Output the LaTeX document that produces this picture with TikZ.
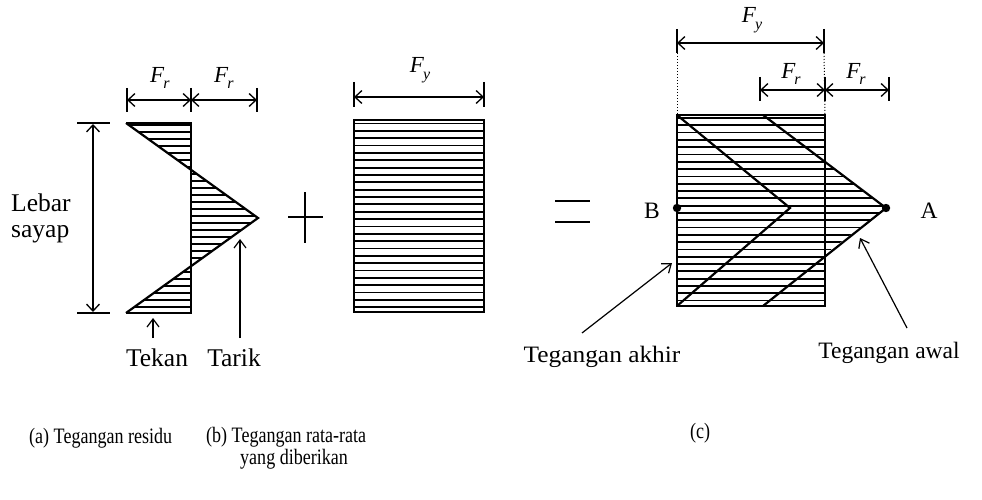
\documentclass[tikz,border=0pt]{standalone}
\usepackage{fontspec}
\setmainfont{Liberation Serif}
\usetikzlibrary{arrows.meta}
\newcommand\FF[1]{\textit{F}\kern-1pt\raisebox{-0.28em}{\fontsize{16}{16}\selectfont\textit{#1}}}
\begin{document}
\begin{tikzpicture}[x=1pt,y=-1pt,
  lbl/.style={font=\fontsize{25.5}{27}\selectfont, inner sep=0pt},
  lblb/.style={font=\fontsize{23.5}{25}\selectfont, inner sep=0pt},
  fl/.style={font=\fontsize{23}{25}\selectfont, inner sep=0pt},
  captext/.style={font=\fontsize{22}{24}\selectfont, inner sep=0pt, anchor=west},
  dim/.style={line width=1.3pt, {Straight Barb[length=7pt,width=13pt]}-{Straight Barb[length=7pt,width=13pt]}},
  tickline/.style={line width=1.6pt},
  outl/.style={line width=2.2pt, line join=miter},
  hatchline/.style={line width=1.8pt},
  ptr/.style={line width=1.2pt, -{Straight Barb[length=8pt,width=12pt]}},
  dotline/.style={line width=1pt, dotted},
]
\useasboundingbox (0,0) rectangle (982,500);

%================ panel (a)
\coordinate (a1) at (126,123);
\coordinate (a2) at (191,123);
\coordinate (a3) at (191,169.8);
\coordinate (tip) at (258,218);
\coordinate (a5) at (191,266.2);
\coordinate (a6) at (126,313);
\coordinate (a7) at (191,313);
\begin{scope}
  \clip (a1)--(a2)--(a3)--cycle (a3)--(tip)--(a5)--cycle (a5)--(a7)--(a6)--cycle;
  \foreach \i in {0,...,27} {\draw[hatchline] (120,{125+7*\i}) -- (265,{125+7*\i});}
\end{scope}
\draw[outl] (a1)--(tip)--(a6);
\draw[outl] (a1)--(a2)--(a7)--(a6);

% top dimensions
\coordinate (ta1) at (127,88); \coordinate (tb1) at (127,112);
\coordinate (ta2) at (191,88); \coordinate (tb2) at (191,112);
\coordinate (ta3) at (257,88); \coordinate (tb3) at (257,112);
\draw[tickline] (ta1)--(tb1) (ta2)--(tb2) (ta3)--(tb3);
\coordinate (da1) at (127,100); \coordinate (da2) at (191,100); \coordinate (da3) at (257,100);
\draw[dim] (da1)--(da2);
\draw[dim] (da2)--(da3);
\node[fl] (fr1) at (160,78) {\FF{r}};
\node[fl] (fr2) at (224,78) {\FF{r}};

% width dimension
\coordinate (wl1) at (77,123); \coordinate (wr1) at (110,123);
\coordinate (wl2) at (77,313); \coordinate (wr2) at (110,313);
\draw[tickline] (wl1)--(wr1) (wl2)--(wr2);
\coordinate (wv1) at (93,124); \coordinate (wv2) at (93,312);
\draw[dim] (wv1)--(wv2);
\node[lbl, anchor=west] (lebar) at (11,203) {Lebar};
\node[lbl, anchor=west] (sayap) at (11,234) {sayap};

% Tekan / Tarik
\node[lbl] (tekan) at (157,358) {Tekan};
\node[lbl] (tarik) at (234,358) {Tarik};
\coordinate (tk1) at (153,338); \coordinate (tk2) at (153,318);
\coordinate (tr1) at (240,338); \coordinate (tr2) at (240,239);
\draw[ptr] (tk1)--(tk2);
\draw[ptr] (tr1)--(tr2);

% plus
\coordinate (p1) at (288,217); \coordinate (p2) at (323,217);
\coordinate (p3) at (305,192); \coordinate (p4) at (305,243);
\draw[line width=2pt] (p1)--(p2) (p3)--(p4);

%================ panel (b)
\coordinate (b1) at (354,120); \coordinate (b2) at (484,312);
\begin{scope}
  \clip (b1) rectangle (b2);
  \foreach \i in {0,...,26} {\draw[hatchline] (350,{123.5+7.35*\i}) -- (490,{123.5+7.35*\i});}
\end{scope}
\draw[outl] (b1) rectangle (b2);
\coordinate (tbb1) at (354,82); \coordinate (tbb2) at (354,107);
\coordinate (tbb3) at (484,82); \coordinate (tbb4) at (484,107);
\draw[tickline] (tbb1)--(tbb2) (tbb3)--(tbb4);
\coordinate (db1) at (354,97); \coordinate (db2) at (484,97);
\draw[dim] (db1)--(db2);
\node[fl] (fy1) at (420,70) {\FF{y}};

% equals
\coordinate (e1) at (555,201); \coordinate (e2) at (590,201);
\coordinate (e3) at (555,222); \coordinate (e4) at (590,222);
\draw[line width=2pt] (e1)--(e2) (e3)--(e4);

%================ panel (c)
\coordinate (c1) at (677,115); \coordinate (c2) at (825,306);
\coordinate (cB) at (677,208);
\coordinate (cm) at (790,208);
\coordinate (cbl) at (677,306);
\coordinate (ct2) at (763,115);
\coordinate (cA) at (886,208);
\coordinate (cb2) at (763,306);
\coordinate (cx1) at (825,161.9);
\coordinate (cx2) at (825,254.1);
\begin{scope}
  \clip (c1) rectangle (c2) (cx1)--(cA)--(cx2)--cycle;
  \foreach \i in {0,...,26} {\draw[hatchline] (670,{118+7.3*\i}) -- (895,{118+7.3*\i});}
\end{scope}
\draw[outl] (c1) rectangle (c2);
\draw[outl] (c1)--(cm)--(cbl);
\draw[outl] (ct2)--(cA)--(cb2);
\fill (cB) circle (4.2);
\fill (cA) circle (4.2);
\node[lblb] (lB) at (652,211) {B};
\node[lblb] (lA) at (929,211) {A};

% dimensions of (c)
\coordinate (fy1a) at (677,29); \coordinate (fy1b) at (677,53);
\coordinate (fy2a) at (824,29); \coordinate (fy2b) at (824,53);
\draw[tickline] (fy1a)--(fy1b) (fy2a)--(fy2b);
\coordinate (dfy1) at (677,43); \coordinate (dfy2) at (824,43);
\draw[dim] (dfy1)--(dfy2);
\node[fl] (fyc) at (752,20) {\FF{y}};
\coordinate (dt1) at (677,115); \coordinate (dt2) at (825,115);
\draw[dotline] (fy1b)--(dt1);
\draw[dotline] (fy2b)--(dt2);

\coordinate (fr1a) at (760,77); \coordinate (fr1b) at (760,101);
\coordinate (fr2a) at (825,77); \coordinate (fr2b) at (825,101);
\coordinate (fr3a) at (889,77); \coordinate (fr3b) at (889,101);
\draw[tickline] (fr1a)--(fr1b) (fr2a)--(fr2b) (fr3a)--(fr3b);
\coordinate (dr1) at (760,90); \coordinate (dr2) at (825,90); \coordinate (dr3) at (889,90);
\draw[dim] (dr1)--(dr2);
\draw[dim] (dr2)--(dr3);
\node[fl] (frc1) at (791,74) {\FF{r}};
\node[fl] (frc2) at (856,74) {\FF{r}};

% pointers
\node[lblb] (akhir) at (602,357) {\scalebox{1.08}[1]{Tegangan akhir}};
\node[lblb] (awal) at (889,353) {Tegangan awal};
\coordinate (pa1) at (582,333); \coordinate (pa2) at (672,263);
\coordinate (pw1) at (907,328); \coordinate (pw2) at (860,238);
\draw[ptr] (pa1)--(pa2);
\draw[ptr] (pw1)--(pw2);

%================ captions
\node[captext] (capa) at (29,438) {\scalebox{0.82}[1]{(a) Tegangan residu}};
\node[captext] (capb) at (206,437) {\scalebox{0.82}[1]{(b) Tegangan rata-rata}};
\node[captext] (capb2) at (240,459) {\scalebox{0.82}[1]{yang diberikan}};
\node[captext] (capc) at (690,433) {\scalebox{0.82}[1]{(c)}};
\end{tikzpicture}
\end{document}
